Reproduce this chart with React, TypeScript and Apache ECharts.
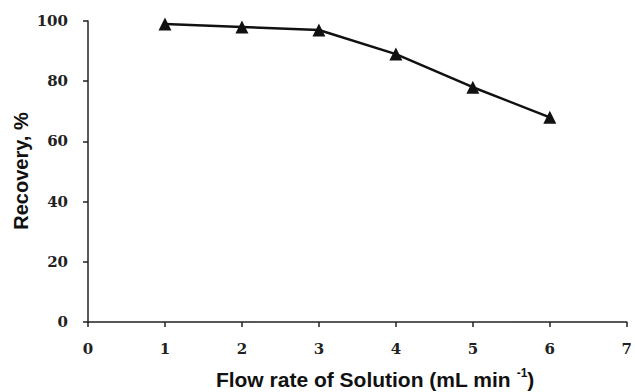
import React, { useEffect, useRef } from "react";
import * as echarts from "echarts";

const flowRates = [1, 2, 3, 4, 5, 6];
const recovery = [99, 98, 97, 89, 78, 68];
const xTicks = { min: 0, max: 7, interval: 1 };
const yTicks = { min: 0, max: 100, interval: 20 };

export default function App() {
  const ref = useRef<HTMLDivElement>(null);
  useEffect(() => {
    if (!ref.current) return;
    const chart = echarts.init(ref.current, null, { renderer: "svg" });
    const labelStyle = {
      fontFamily: "DejaVu Serif",
      fontSize: 15,
      fontWeight: "bold",
      color: "#222",
    };
    chart.setOption({
      animation: false,
      backgroundColor: "#fff",
      grid: { left: 88, right: 1, top: 21, bottom: 70, containLabel: false },
      xAxis: {
        type: "value",
        min: xTicks.min,
        max: xTicks.max,
        interval: xTicks.interval,
        axisLine: { show: true, lineStyle: { color: "#222", width: 1.5 } },
        axisTick: { show: true, inside: false, length: 5, lineStyle: { color: "#222", width: 1.5 } },
        axisLabel: { ...labelStyle, margin: 19, showMaxLabel: true },
        splitLine: { show: false },
      },
      yAxis: {
        type: "value",
        min: yTicks.min,
        max: yTicks.max,
        interval: yTicks.interval,
        axisLine: { show: true, lineStyle: { color: "#222", width: 1.5 } },
        axisTick: { show: true, inside: false, length: 5, lineStyle: { color: "#222", width: 1.5 } },
        axisLabel: { ...labelStyle, margin: 20 },
        splitLine: { show: false },
      },
      graphic: [
        {
          type: "text",
          x: 21,
          y: 171,
          rotation: Math.PI / 2,
          style: {
            text: "Recovery, %",
            fontFamily: "Liberation Sans",
            fontWeight: "bold",
            fontSize: 20,
            fill: "#111",
            align: "center",
            verticalAlign: "middle",
          },
        },
        {
          type: "text",
          x: 375,
          y: 379,
          style: {
            text: "{m|Flow rate of Solution (mL min }{s|-1}{m|)}",
            align: "center",
            verticalAlign: "middle",
            rich: {
              m: {
                fontFamily: "Liberation Sans",
                fontWeight: "bold",
                fontSize: 21,
                fill: "#111",
                lineHeight: 24,
              },
              s: {
                fontFamily: "Liberation Sans",
                fontWeight: "bold",
                fontSize: 12,
                fill: "#111",
                verticalAlign: "top",
                lineHeight: 24,
              },
            },
          },
        },
      ],
      series: [
        {
          type: "line",
          data: flowRates.map((x, i) => [x, recovery[i]]),
          symbol: "triangle",
          symbolSize: 13,
          color: "#111",
          itemStyle: { color: "#111" },
          lineStyle: { color: "#111", width: 2.5 },
        },
      ],
    });
    return () => chart.dispose();
  }, []);
  return (
    <div
      ref={ref}
      style={{ position: "fixed", left: 0, top: 0, width: 635, height: 392 }}
    />
  );
}
